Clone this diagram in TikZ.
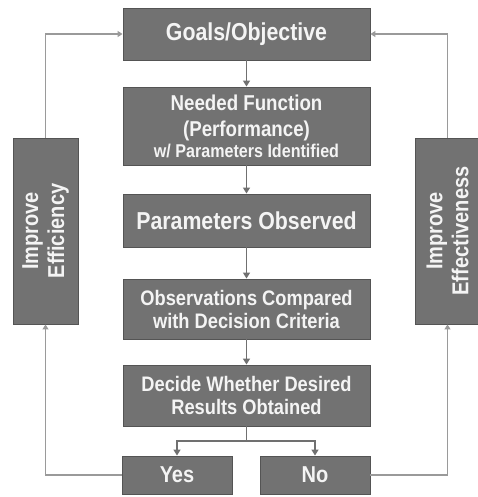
\documentclass[tikz,border=0pt]{standalone}
\usepackage{fontspec}
\newfontfamily\boxfont{Liberation Sans}[FakeStretch=0.87]
\usetikzlibrary{arrows.meta}
\definecolor{boxfill}{HTML}{727272}
\definecolor{boxedge}{HTML}{545454}
\definecolor{flowline}{HTML}{707070}
\definecolor{sideline}{HTML}{9A9A9A}
\definecolor{boxtext}{HTML}{F4F4F4}
\begin{document}
\begin{tikzpicture}[x=1pt,y=-1pt,
  stepbox/.style={draw=boxedge,line width=0.9pt,fill=boxfill,text=boxtext,
    align=center,inner sep=0pt},
  fsize/.style 2 args={font=\boxfont\bfseries\fontsize{#1}{#2}\selectfont},
  flow/.style={draw=flowline,line width=1.3pt,-{Triangle[width=7pt,length=6pt]}},
  side/.style={draw=sideline,line width=1.2pt,-{Triangle[width=6pt,length=5pt]}}]
  \useasboundingbox[fill=white] (0,0) rectangle (477,497);

  % main column
  \node[stepbox,fsize={24.5}{26},minimum width=247pt,minimum height=52pt] (goals) at (246.5,34)
    {Goals/Objective};
  \node[stepbox,fsize={21.5}{26},minimum width=247pt,minimum height=78pt] (need) at (246.5,126)
    {Needed Function\\(Performance)\\[-5pt]
     {\fontsize{18.5}{20}\selectfont w/ Parameters Identified}};
  \node[stepbox,fsize={24.5}{26},minimum width=247pt,minimum height=53pt] (param) at (246.5,220.5)
    {Parameters Observed};
  \node[stepbox,fsize={21}{23},minimum width=247pt,minimum height=60pt] (obs) at (246.5,309)
    {Observations Compared\\with Decision Criteria};
  \node[stepbox,fsize={21}{22.5},minimum width=247pt,minimum height=61pt] (decide) at (246.5,395.5)
    {Decide Whether Desired\\Results Obtained};

  % outcomes
  \node[stepbox,fsize={23}{24},minimum width=110pt,minimum height=38pt] (yes) at (177,475) {Yes};
  \node[stepbox,fsize={23}{24},minimum width=110pt,minimum height=38pt] (no) at (315,475) {No};

  % feedback boxes, text running upwards
  \node[stepbox,fsize={23}{26},rotate=90,minimum width=186pt,minimum height=65pt] (effic) at (45.5,231)
    {Improve\\Efficiency};
  \node[stepbox,fsize={23}{26},rotate=90,minimum width=186pt,minimum height=65pt] (effect) at (447.5,231)
    {Improve\\Effectiveness};

  % main flow
  \draw[flow] (goals) -- (need);
  \draw[flow] (need) -- (param);
  \draw[flow] (param) -- (obs);
  \draw[flow] (obs) -- (decide);
  \coordinate (split) at (246.5,441);
  \draw[flow,-] (decide.south) -- (split);
  \draw[flow] (split) -| (yes.north);
  \draw[flow] (split) -| (no.north);

  % feedback loops (y axis points down, so the rotated boxes' west anchor is their bottom)
  \draw[side] (yes.west) -| (effic.west);
  \draw[side] (effic.east) |- (goals.west);
  \draw[side] (no.east) -| (effect.west);
  \draw[side] (effect.east) |- (goals.east);
\end{tikzpicture}
\end{document}
